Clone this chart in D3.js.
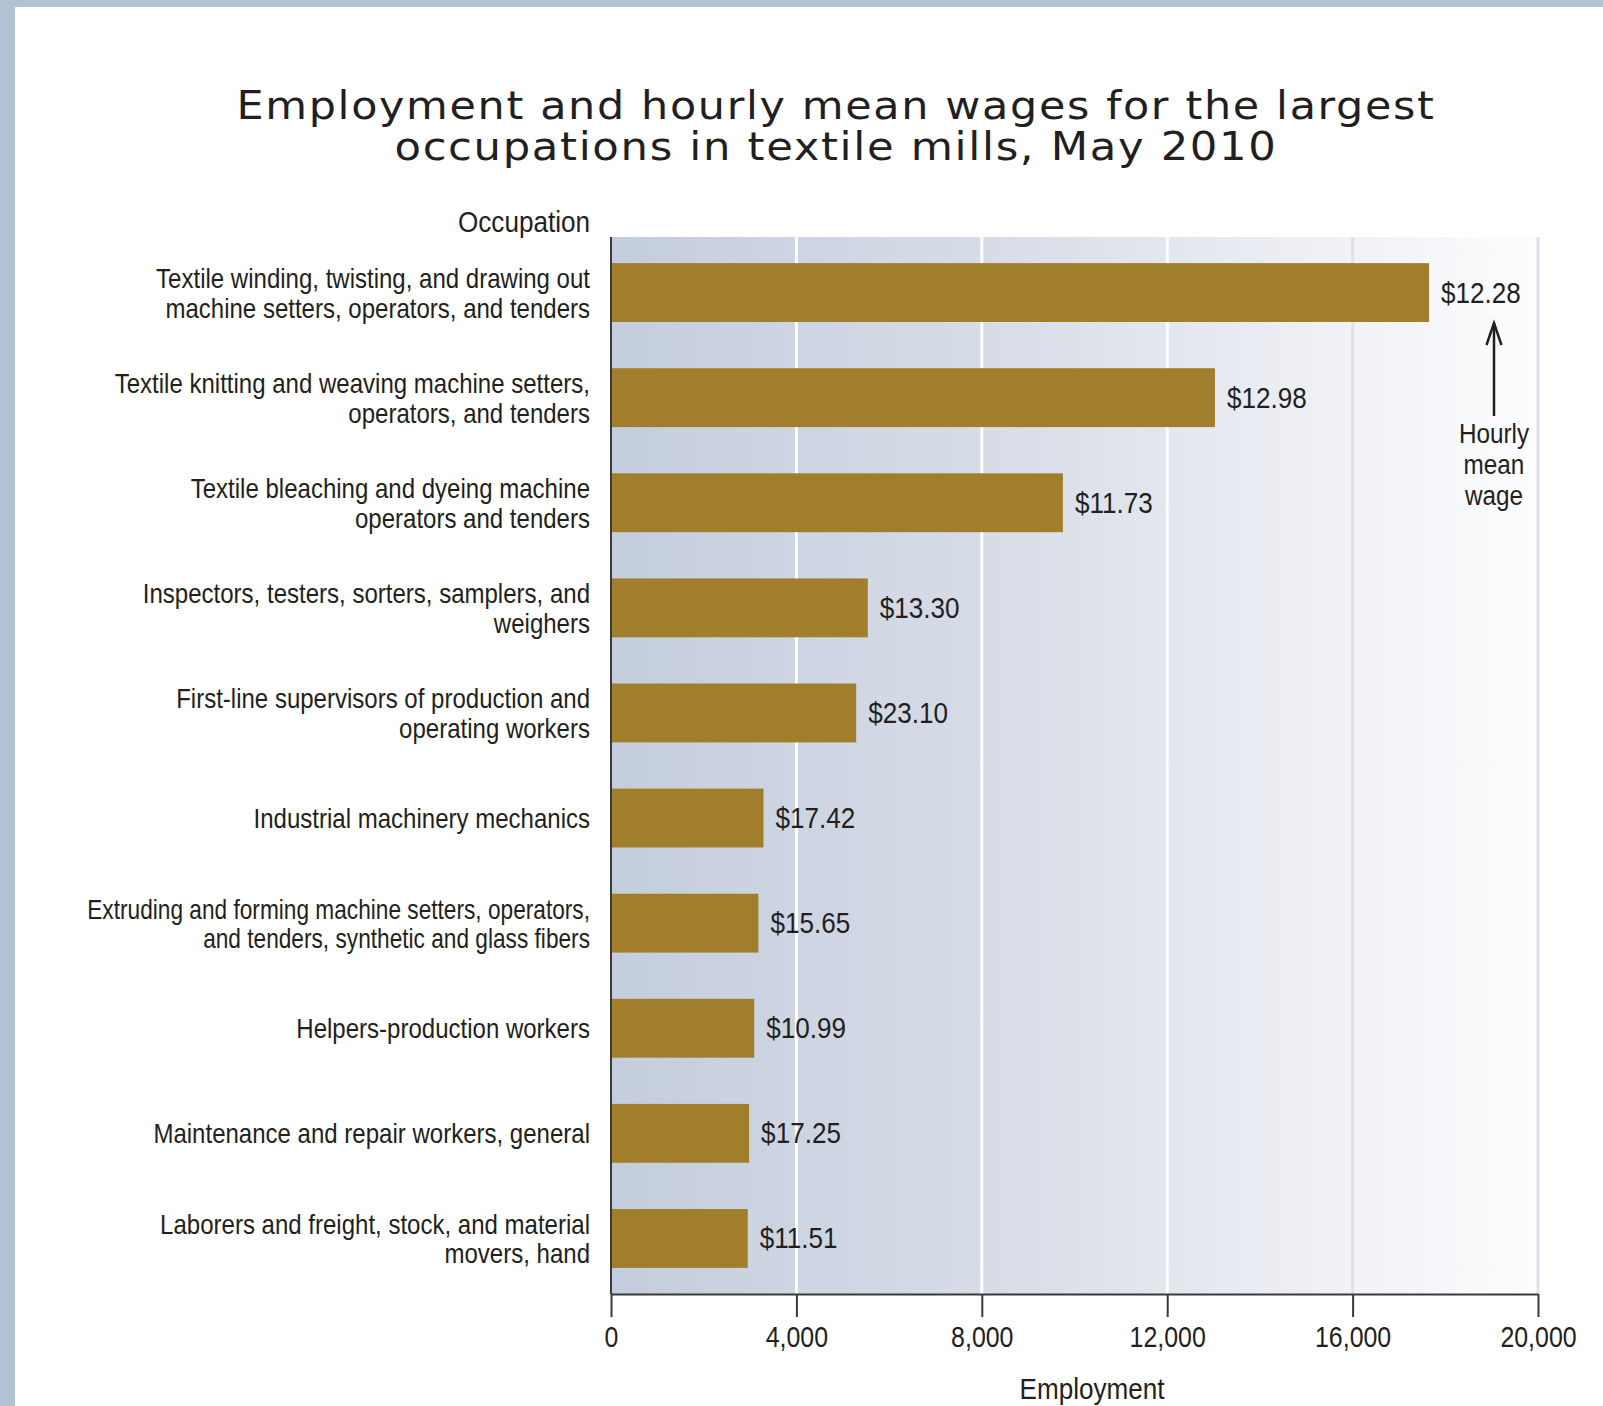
<!DOCTYPE html>
<html>
<head>
<meta charset="utf-8">
<script src="https://cdn.jsdelivr.net/npm/d3@7"></script>
<style>
  html, body { margin: 0; padding: 0; background: #ffffff; }
  svg { display: block; }
  .narrow { font-family: "Liberation Sans", Arial, sans-serif; }
</style>
</head>
<body>
<script>
// ---- data ----
const categories = [
  "Textile winding, twisting, and drawing out machine setters, operators, and tenders",
  "Textile knitting and weaving machine setters, operators, and tenders",
  "Textile bleaching and dyeing machine operators and tenders",
  "Inspectors, testers, sorters, samplers, and weighers",
  "First-line supervisors of production and operating workers",
  "Industrial machinery mechanics",
  "Extruding and forming machine setters, operators, and tenders, synthetic and glass fibers",
  "Helpers-production workers",
  "Maintenance and repair workers, general",
  "Laborers and freight, stock, and material movers, hand"
];
const labelLines = [
  ["Textile winding, twisting, and drawing out", "machine setters, operators, and tenders"],
  ["Textile knitting and weaving machine setters,", "operators, and tenders"],
  ["Textile bleaching and dyeing machine", "operators and tenders"],
  ["Inspectors, testers, sorters, samplers, and", "weighers"],
  ["First-line supervisors of production and", "operating workers"],
  ["Industrial machinery mechanics"],
  ["Extruding and forming machine setters, operators,", "and tenders, synthetic and glass fibers"],
  ["Helpers-production workers"],
  ["Maintenance and repair workers, general"],
  ["Laborers and freight, stock, and material", "movers, hand"]
];
const employment = [17650, 13030, 9750, 5540, 5290, 3290, 3180, 3090, 2980, 2950];
const hourlyWage = [12.28, 12.98, 11.73, 13.30, 23.10, 17.42, 15.65, 10.99, 17.25, 11.51];
const xTicks = [0, 4000, 8000, 12000, 16000, 20000];
const titleLines = ["Employment and hourly mean wages for the largest", "occupations in textile mills, May 2010"];

// ---- layout ----
const W = 1603, H = 1406;
const textColor = "#231f20";
const barColor = "#a07e2c";

const svg = d3.select("body").append("svg").attr("width", W).attr("height", H);

// frame
svg.append("rect").attr("x", 0).attr("y", 0).attr("width", W).attr("height", 7).attr("fill", "#b3c1d5");
svg.append("rect").attr("x", 0).attr("y", 0).attr("width", 15).attr("height", H).attr("fill", "#b3c1d5");

const x = d3.scaleLinear().domain([0, 20000]).range([611, 1538]);
const y = d3.scaleBand().domain(categories).range([240, 1291]).paddingInner(0.44).paddingOuter(0.22);
const plotTop = 237, plotBottom = 1294;

// background gradient
const defs = svg.append("defs");
const grad = defs.append("linearGradient").attr("id", "bg").attr("x1", "0%").attr("x2", "100%").attr("y1", "0%").attr("y2", "0%");
grad.append("stop").attr("offset", "0%").attr("stop-color", "#c4cddd");
grad.append("stop").attr("offset", "45%").attr("stop-color", "#d9dee8");
grad.append("stop").attr("offset", "100%").attr("stop-color", "#fdfdfe");
svg.append("rect").attr("x", x(0)).attr("y", plotTop).attr("width", x(20000) - x(0)).attr("height", plotBottom - plotTop).attr("fill", "url(#bg)");

// gridlines
svg.append("g").selectAll("line").data(xTicks.slice(1)).join("line")
  .attr("x1", d => x(d)).attr("x2", d => x(d))
  .attr("y1", plotTop).attr("y2", plotBottom)
  .attr("stroke", d => d >= 16000 ? "#dde2ec" : "#ffffff")
  .attr("stroke-width", 3);

// bars
svg.append("g").selectAll("rect").data(categories).join("rect")
  .attr("x", x(0))
  .attr("y", d => y(d))
  .attr("width", (d, i) => x(employment[i]) - x(0))
  .attr("height", y.bandwidth())
  .attr("fill", barColor);

// wage labels (condensed via horizontal scale)
svg.append("g").selectAll("text").data(categories).join("text")
  .attr("class", "narrow")
  .attr("transform", (d, i) => `translate(${x(employment[i]) + 12},${y(d) + y.bandwidth() / 2 + 10}) scale(0.9,1)`)
  .attr("font-size", 29)
  .attr("fill", textColor)
  .text((d, i) => "$" + hourlyWage[i].toFixed(2));

// y labels
const lg = svg.append("g").attr("class", "narrow").attr("font-size", 27).attr("fill", textColor)
  .attr("text-anchor", "end");
categories.forEach((c, i) => {
  const cy = y(c) + y.bandwidth() / 2;
  const lines = labelLines[i];
  const sx = lines[0].length > 46 ? 0.84 : 0.89;
  const t = lg.append("text").attr("transform", `translate(590,0) scale(${sx},1)`).attr("x", 0);
  if (lines.length === 1) {
    t.append("tspan").attr("x", 0).attr("y", cy + 10).text(lines[0]);
  } else {
    t.append("tspan").attr("x", 0).attr("y", cy - 4.5).text(lines[0]);
    t.append("tspan").attr("x", 0).attr("y", cy + 25).text(lines[1]);
  }
});

// axes
const xAxis = d3.axisBottom(x).tickValues(xTicks).tickFormat(d3.format(",")).tickSize(23).tickSizeOuter(0).tickPadding(8);
const ax = svg.append("g").attr("transform", `translate(0,${plotBottom})`).call(xAxis);
ax.select(".domain").attr("stroke", "#3a3a3a").attr("stroke-width", 2);
ax.selectAll(".tick line").attr("stroke", "#3a3a3a").attr("stroke-width", 2);
ax.selectAll(".tick text").attr("class", "narrow").attr("font-size", 29).attr("fill", textColor)
  .attr("y", null).attr("dy", null).attr("transform", "translate(0,53) scale(0.86,1)");

const yAxis = d3.axisLeft(y).tickSize(0).tickFormat("");
const ay = svg.append("g").attr("transform", `translate(${x(0)},0)`).call(yAxis);
ay.select(".domain").attr("d", `M0,${plotTop}V${plotBottom}`).attr("stroke", "#3a3a3a").attr("stroke-width", 2);

// axis titles
svg.append("text").attr("class", "narrow").attr("transform", "translate(590,232) scale(0.9,1)").attr("text-anchor", "end")
  .attr("font-size", 29).attr("fill", textColor).text("Occupation");
svg.append("text").attr("class", "narrow").attr("transform", "translate(1092,1399) scale(0.9,1)").attr("text-anchor", "middle")
  .attr("font-size", 29).attr("fill", textColor).text("Employment");

// title
const tg = svg.append("g").attr("font-family", "'DejaVu Sans', sans-serif").attr("font-size", 39)
  .attr("letter-spacing", 1.5).attr("fill", textColor).attr("text-anchor", "middle");
tg.append("text").attr("x", 836).attr("y", 119).attr("textLength", 1199).attr("lengthAdjust", "spacingAndGlyphs").text(titleLines[0]);
tg.append("text").attr("x", 836).attr("y", 160).attr("textLength", 883).attr("lengthAdjust", "spacingAndGlyphs").text(titleLines[1]);

// annotation
const ann = svg.append("g");
const axX = 1494;
ann.append("line").attr("x1", axX).attr("x2", axX).attr("y1", 323).attr("y2", 416).attr("stroke", textColor).attr("stroke-width", 2.5);
ann.append("path").attr("d", `M${axX - 7.5},${345} L${axX},${323} L${axX + 7.5},${345}`).attr("fill", "none").attr("stroke", textColor).attr("stroke-width", 2.5);
const at = ann.append("g").attr("class", "narrow").attr("font-size", 27).attr("fill", textColor).attr("text-anchor", "middle");
[["Hourly", 443], ["mean", 474], ["wage", 505]].forEach(([s, yy]) =>
  at.append("text").attr("transform", `translate(${axX},${yy}) scale(0.9,1)`).text(s));
</script>
</body>
</html>
